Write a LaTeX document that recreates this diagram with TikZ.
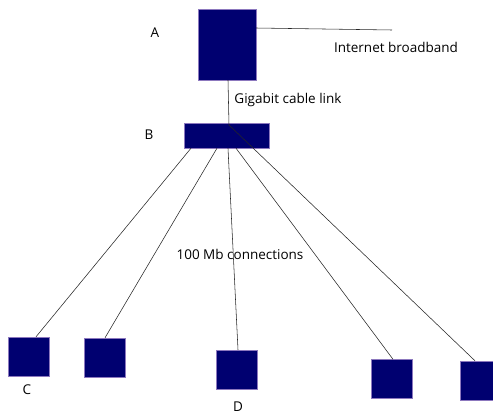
\documentclass[tikz,border=0pt]{standalone}
\usepackage{fontspec}
\setmainfont{Open Sans}
\definecolor{boxfill}{RGB}{0,0,112}
\definecolor{boxedge}{RGB}{140,120,190}
\begin{document}
\begin{tikzpicture}[x=1pt,y=-1pt,line width=0.5pt,
  unit/.style={draw=boxedge,fill=boxfill,line width=0.4pt,inner sep=0pt,
    minimum width=41pt,minimum height=39pt},
  link/.style={draw=black!85,line width=0.55pt},
  every node/.style={font=\fontsize{13.5}{15}\selectfont}]
 \useasboundingbox (0,0) rectangle (493,413);
 \clip (0,0) rectangle (493,413);
 \node[unit,minimum width=58pt,minimum height=71pt] (A) at (227,44.5) {};
 \node[unit,minimum width=85pt,minimum height=25pt] (B) at (226.5,135.5) {};
 \node[unit] (C) at (28.5,356.5) {};
 \node[unit] (pc2) at (105,357.5) {};
 \node[unit] (D) at (236.5,369.5) {};
 \node[unit] (pc4) at (391.5,379) {};
 \node[unit] (pc5) at (480.5,380.5) {};
 \coordinate (net) at (392,30); \coordinate (hub) at (229,125);
 \draw[link] ([yshift=16.5pt]A.east)--(net);
 \draw[link] ([xshift=1pt]A.south)--(hub)--([xshift=-5.5pt]pc5.north);
 \draw[link] ([xshift=-35.5pt]B.south)--([xshift=7.5pt]C.north);
 \draw[link] ([xshift=-9.5pt]B.south)--(pc2.north);
 \draw[link] ([xshift=1.5pt]B.south)--([xshift=1.5pt]D.north);
 \draw[link] ([xshift=9.5pt]B.south)--([xshift=1.5pt]pc4.north);
 \node (labA) at (155,33) {A}; \node (labB) at (149,135) {B};
 \node (labC) at (27,390) {C}; \node (labD) at (238,407) {D};
 \node (inet) at (396,47) {Internet broadband};
 \node (giga) at (288,100) {Gigabit cable link};
 \node (mb) at (240,254) {100 Mb connections};
\end{tikzpicture}
\end{document}
